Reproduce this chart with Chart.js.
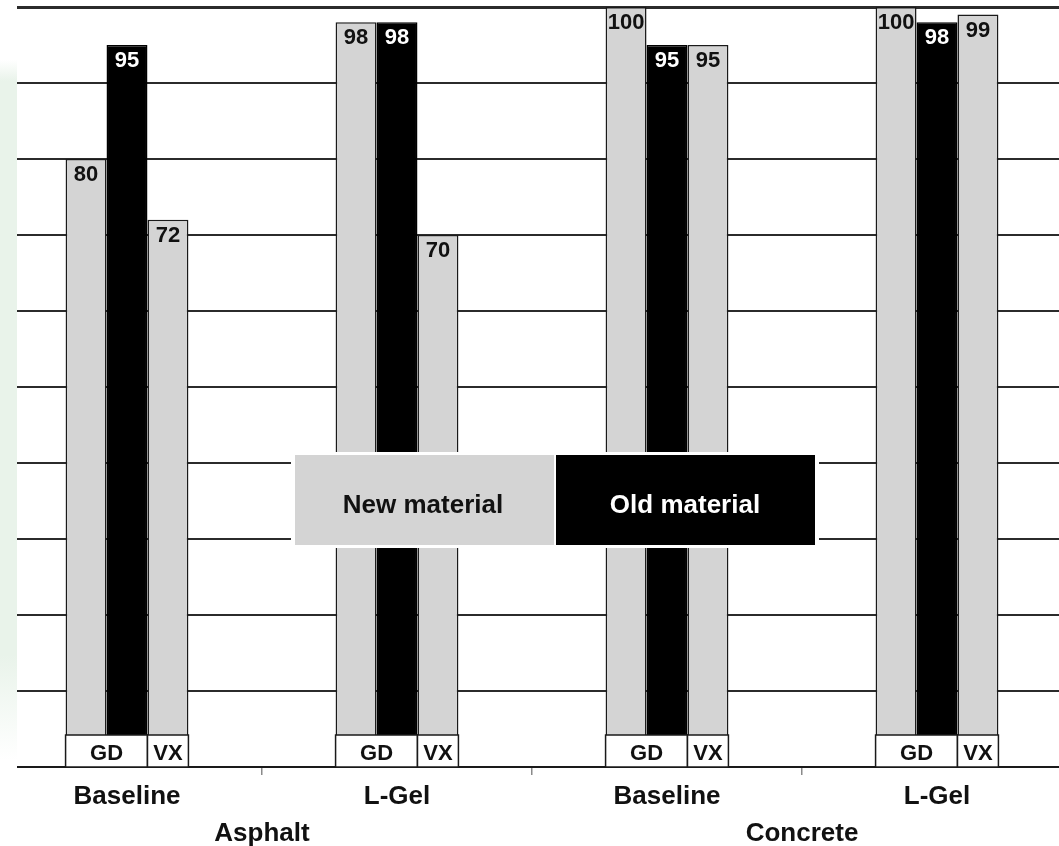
<!DOCTYPE html>
<html>
<head>
<meta charset="utf-8">
<title>Decontamination results by surface and material</title>
<script src="https://cdn.jsdelivr.net/npm/chart.js@4.4.1/dist/chart.umd.min.js"></script>
<style>
  html, body { margin: 0; padding: 0; background: #ffffff; overflow: hidden; }
  #wrap { position: relative; width: 1059px; height: 846px; overflow: hidden; background: #ffffff; }
  #chart { position: absolute; left: -8px; top: 0; }
</style>
</head>
<body>
<div id="wrap"><canvas id="chart" width="1080" height="846"></canvas></div>
<script>
// ---- data ----
const surfaces = ['Baseline', 'L-Gel', 'Baseline', 'L-Gel'];
const materials = ['Asphalt', 'Concrete'];
const gdNew = [80, 98, 100, 100];
const gdOld = [95, 98, 95, 98];
const vxNew = [72, 70, 95, 99];
const agents = ['GD', 'GD', 'VX'];
const legendLabels = ['New material', 'Old material'];
const yMin = 0, yMax = 100, yStep = 10;

// ---- style ----
const FONT = "'Liberation Sans', Arial, Helvetica, sans-serif";
const GRAY = '#d4d4d4';
const BLACK = '#000000';
const INK = '#111111';
const EDGE = '#1a1a1a';

Chart.defaults.font.family = FONT;

// agent strip, value labels, legend block and left margin
const annotate = {
  id: 'annotate',
  afterDatasetsDraw(chart) {
    const ctx = chart.ctx;
    const area = chart.chartArea;
    const metas = chart.data.datasets.map((d, i) => chart.getDatasetMeta(i));
    const stripH = 32;
    ctx.save();

    // value labels at the top of each bar
    ctx.font = `bold 22px ${FONT}`;
    ctx.textAlign = 'center';
    ctx.textBaseline = 'alphabetic';
    metas.forEach((meta, i) => {
      const ds = chart.data.datasets[i];
      meta.data.forEach((bar, j) => {
        ctx.fillStyle = ds.backgroundColor === BLACK ? '#ffffff' : INK;
        ctx.fillText(String(ds.data[j]), bar.x, bar.y + 22);
      });
    });

    // agent boxes along the base of each group
    for (let j = 0; j < surfaces.length; j++) {
      let k = 0;
      while (k < agents.length) {
        let e = k;
        while (e + 1 < agents.length && agents[e + 1] === agents[k]) e++;
        const a = metas[k].data[j], b = metas[e].data[j];
        const x0 = a.x - a.width / 2, x1 = b.x + b.width / 2;
        const y0 = area.bottom - stripH, y1 = area.bottom;
        ctx.fillStyle = '#ffffff';
        ctx.fillRect(x0, y0, x1 - x0, y1 - y0);
        ctx.lineWidth = 1.5;
        ctx.strokeStyle = EDGE;
        ctx.strokeRect(x0, y0, x1 - x0, y1 - y0);
        ctx.fillStyle = INK;
        ctx.font = `bold 22px ${FONT}`;
        ctx.fillText(agents[k], (x0 + x1) / 2, y1 - 7);
        k = e + 1;
      }
    }
    ctx.restore();
  },
  afterDraw(chart) {
    const ctx = chart.ctx;
    ctx.save();

    // legend block in the middle of the plot
    const L = { x: 303, y: 455, w: 520, h: 90 };
    const half = L.w / 2;
    ctx.fillStyle = '#ffffff';
    ctx.fillRect(L.x - 4, L.y - 3, L.w + 8, L.h + 6);
    ctx.fillStyle = GRAY;
    ctx.fillRect(L.x, L.y, half - 1, L.h);
    ctx.fillStyle = BLACK;
    ctx.fillRect(L.x + half + 1, L.y, half - 1, L.h);
    ctx.font = `bold 26px ${FONT}`;
    ctx.textAlign = 'center';
    ctx.textBaseline = 'alphabetic';
    ctx.fillStyle = INK;
    ctx.fillText(legendLabels[0], L.x + half / 2 - 2, L.y + 58);
    ctx.fillStyle = '#ffffff';
    ctx.fillText(legendLabels[1], L.x + half + half / 2, L.y + 58);

    // pale margin strip on the far left
    ctx.fillStyle = '#ffffff';
    ctx.fillRect(0, 0, 25, chart.height);
    const g = ctx.createLinearGradient(0, 60, 0, 760);
    g.addColorStop(0, 'rgba(233,243,234,0)');
    g.addColorStop(0.03, 'rgba(233,243,234,1)');
    g.addColorStop(0.85, 'rgba(233,243,234,1)');
    g.addColorStop(1, 'rgba(233,243,234,0)');
    ctx.fillStyle = g;
    ctx.fillRect(0, 60, 25, 700);
    ctx.restore();
  }
};

new Chart(document.getElementById('chart'), {
  type: 'bar',
  data: {
    labels: surfaces,
    datasets: [
      { label: 'GD, new material', data: gdNew, backgroundColor: GRAY, borderColor: EDGE, borderWidth: 1.5 },
      { label: 'GD, old material', data: gdOld, backgroundColor: BLACK, borderColor: BLACK, borderWidth: 1.5 },
      { label: 'VX, new material', data: vxNew, backgroundColor: GRAY, borderColor: EDGE, borderWidth: 1.5 }
    ]
  },
  options: {
    responsive: false,
    animation: false,
    devicePixelRatio: 1,
    layout: { padding: { top: 7, left: 0, right: 0, bottom: 0 } },
    datasets: { bar: { categoryPercentage: 0.455, barPercentage: 1.0 } },
    plugins: { legend: { display: false }, tooltip: { enabled: false } },
    scales: {
      x: {
        type: 'category',
        position: 'bottom',
        grid: { display: true, drawOnChartArea: false, drawTicks: true, tickLength: 8, color: '#8a8a8a', lineWidth: 1.5 },
        border: { display: true, color: EDGE, width: 2 },
        ticks: { color: INK, padding: 6, font: { size: 26, weight: 'bold' }, maxRotation: 0 },
        afterFit(scale) { scale.height = 40; }
      },
      x2: {
        type: 'category',
        position: 'bottom',
        labels: materials,
        grid: { display: false, drawTicks: false },
        border: { display: false },
        ticks: { color: INK, padding: 11, font: { size: 26, weight: 'bold' }, maxRotation: 0 },
        afterFit(scale) { scale.height = 39; }
      },
      y: {
        min: yMin,
        max: yMax,
        ticks: { display: false, stepSize: yStep },
        grid: {
          drawTicks: false,
          color: '#2b2b2b',
          lineWidth: (c) => (c.tick && c.tick.value === yMax ? 3 : 2)
        },
        border: { display: false },
        afterFit(scale) { scale.width = 0; }
      }
    }
  },
  plugins: [annotate]
});
</script>
</body>
</html>
